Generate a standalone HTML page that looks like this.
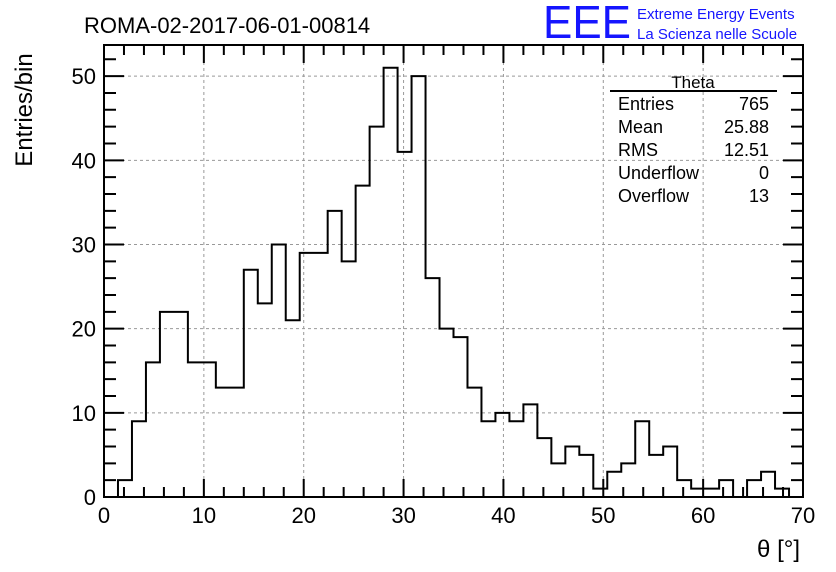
<!DOCTYPE html>
<html><head><meta charset="utf-8"><style>
body{margin:0;background:#fff;}
svg{display:block;font-family:"Liberation Sans",sans-serif;}
</style></head><body>
<svg id="c" width="836" height="572">
<rect width="836" height="572" fill="#fff"/>
<text x="84" y="33" font-size="22">ROMA-02-2017-06-01-00814</text>
<text x="543" y="38" font-size="46" fill="#1515ff" textLength="88" lengthAdjust="spacingAndGlyphs">EEE</text>
<text x="637" y="19" font-size="15" fill="#1515ff">Extreme Energy Events</text>
<text x="637" y="39" font-size="15" fill="#1515ff">La Scienza nelle Scuole</text>
<g id="grid"></g>
<g id="ticks"></g>
<path id="hist" fill="none" stroke="#000" stroke-width="2"/>
<rect x="104" y="45" width="699" height="452" fill="none" stroke="#000" stroke-width="2"/>
<g id="stats" font-size="18">
<text x="693" y="88" text-anchor="middle" font-size="17">Theta</text>
<line x1="610" y1="91" x2="777" y2="91" stroke="#000" stroke-width="2"/>
</g>
<text transform="translate(32,110) rotate(-90)" text-anchor="middle" font-size="24">Entries/bin</text>
<text x="800" y="557" text-anchor="end" font-size="24">θ [°]</text>
</svg>
<script>
const counts=[0,2,9,16,22,22,16,16,13,13,27,23,30,21,29,29,34,28,37,44,51,41,50,26,20,19,13,9,10,9,11,7,4,6,5,1,3,4,9,5,6,2,1,1,2,0,2,3,1,0];
const xTicks=[0,10,20,30,40,50,60,70];
const yTicks=[0,10,20,30,40,50];
const statLabels=["Entries","Mean","RMS","Underflow","Overflow"];
const statValues=["765","25.88","12.51","0","13"];
const binLo=0, binW=1.4;
const X0=104,X1=803,Y0=497,Y1=45,xmin=0,xmax=70,ymax=53.7;
const sx=v=>X0+(v-xmin)/(xmax-xmin)*(X1-X0);
const sy=v=>Y0-v/ymax*(Y0-Y1);
const NS="http://www.w3.org/2000/svg";
const svg=document.getElementById('c');
function mk(tag,attrs,parent){const e=document.createElementNS(NS,tag);for(const k in attrs)e.setAttribute(k,attrs[k]);parent.appendChild(e);return e;}
const grid=document.getElementById('grid'),ticks=document.getElementById('ticks');
xTicks.forEach(v=>{
  if(v>xmin&&v<xmax){const l=mk('line',{x1:sx(v),x2:sx(v),y1:Y0,y2:Y1,stroke:'#999','stroke-dasharray':'3,3'},grid);
  
  }
  const t=mk('text',{x:sx(v),y:Y0+26,'text-anchor':'middle','font-size':22},svg);
  t.textContent=v;
  
  
});
yTicks.forEach(v=>{
  if(v>0){const l=mk('line',{x1:X0,x2:X1,y1:sy(v),y2:sy(v),stroke:'#999','stroke-dasharray':'3,3'},grid);
  
  }
  const t=mk('text',{x:X0-8,y:sy(v)+8,'text-anchor':'end','font-size':22},svg);
  t.textContent=v;
  
  
});
let d='';
for(let v=xmin;v<=xmax+1e-6;v+=2){const M=Math.abs(v%10)<1e-6;const L=M?18:10;const x=sx(v);
  d+=`M${x},${Y0}v${-L}M${x},${Y1}v${L}`;}
for(let v=0;v<=ymax;v+=2){const M=Math.abs(v%10)<1e-6;const L=M?20:12;const y=sy(v);
  d+=`M${X0},${y}h${L}M${X1},${y}h${-L}`;}
mk('path',{d:d,stroke:'#000','stroke-width':2,fill:'none'},ticks);
let h=`M${sx(binLo)},${sy(0)}`;
counts.forEach((c,i)=>{h+=`L${sx(binLo+i*binW)},${sy(c)}L${sx(binLo+(i+1)*binW)},${sy(c)}`;});
h+=`L${sx(binLo+counts.length*binW)},${sy(0)}`;
document.getElementById('hist').setAttribute('d',h);
const st=document.getElementById('stats');
statLabels.forEach((s,i)=>{
  const y=110+i*23;
  const a=mk('text',{x:618,y:y},st);a.textContent=s;
  
  
  const b=mk('text',{x:769,y:y,'text-anchor':'end'},st);b.textContent=statValues[i];
  
  
});
</script>
</body></html>
